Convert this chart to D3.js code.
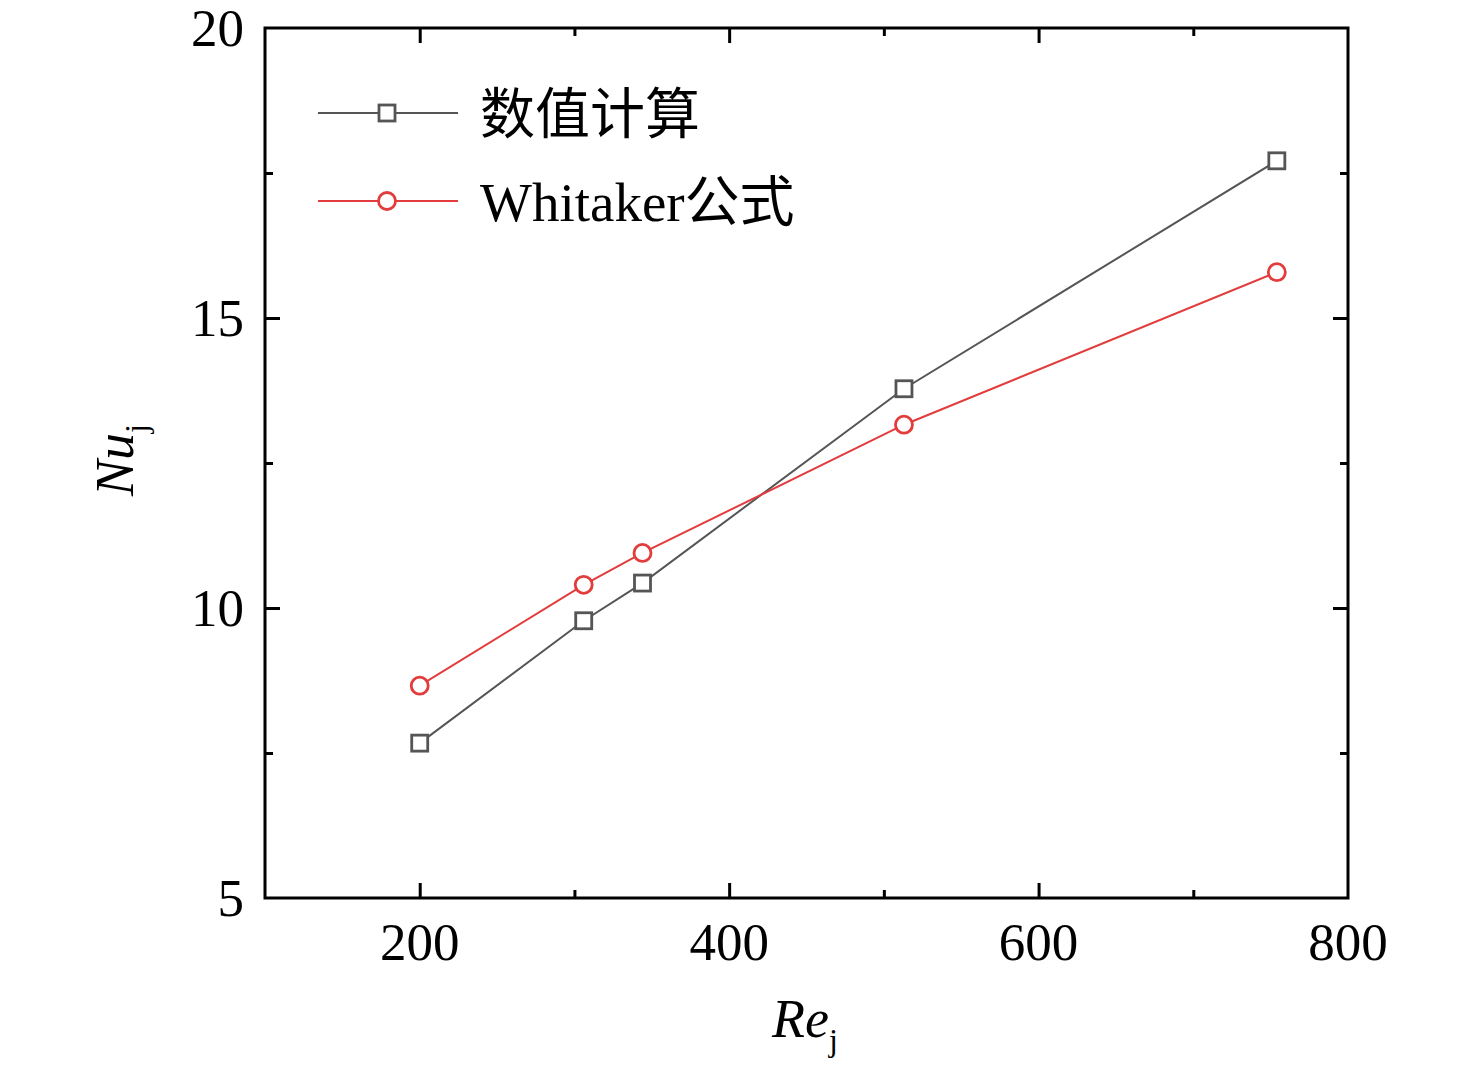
<!DOCTYPE html>
<html><head><meta charset="utf-8">
<script src="https://cdn.jsdelivr.net/npm/d3@7"></script>
<style>body{margin:0;background:#fff}</style>
</head><body>
<svg id="c" width="1476" height="1067"></svg>
<script>
const reValues = [200, 306, 344, 513, 754];
const numericNu = [7.67, 9.78, 10.43, 13.78, 17.71];
const whitakerNu = [8.66, 10.40, 10.95, 13.16, 15.79];
const seriesNames = ["数值计算", "Whitaker公式"];
const xTicks = [200, 400, 600, 800];
const xMinor = [300, 500, 700];
const yTicks = [5, 10, 15, 20];
const yMinor = [7.5, 12.5, 17.5];

const svg = d3.select("#c");
const L = 265, R = 1348, T = 28, B = 898;
const x = d3.scaleLinear().domain([100, 800]).range([L, R]);
const y = d3.scaleLinear().domain([5, 20]).range([B, T]);
const serif = "'Liberation Serif','Times New Roman','Noto Sans CJK SC',serif";

const gray = "#555555", red = "#e23c3c";

function axisG(axis, tr) {
  const g = svg.append("g").attr("transform", tr).call(axis);
  g.select(".domain").remove();
  g.selectAll("line").attr("stroke", "#000").attr("stroke-width", 3);
  g.selectAll("text").remove();
  return g;
}
axisG(d3.axisBottom(x).tickValues(xTicks.filter(v=>v<800)).tickSize(-15), `translate(0,${B})`);
axisG(d3.axisBottom(x).tickValues(xMinor).tickSize(-8), `translate(0,${B})`);
axisG(d3.axisTop(x).tickValues(xTicks.filter(v=>v<800)).tickSize(-15), `translate(0,${T})`);
axisG(d3.axisTop(x).tickValues(xMinor).tickSize(-8), `translate(0,${T})`);
axisG(d3.axisLeft(y).tickValues(yTicks.filter(v=>v>5&&v<20)).tickSize(-15), `translate(${L},0)`);
axisG(d3.axisLeft(y).tickValues(yMinor).tickSize(-8), `translate(${L},0)`);
axisG(d3.axisRight(y).tickValues(yTicks.filter(v=>v>5&&v<20)).tickSize(-15), `translate(${R},0)`);
axisG(d3.axisRight(y).tickValues(yMinor).tickSize(-8), `translate(${R},0)`);

svg.append("rect").attr("x", L).attr("y", T).attr("width", R-L).attr("height", B-T)
  .attr("fill", "none").attr("stroke", "#000").attr("stroke-width", 3);

svg.append("g").selectAll("text").data(xTicks).join("text")
  .attr("x", d => x(d)).attr("y", 960).attr("text-anchor", "middle")
  .attr("font-family", serif).attr("font-size", 53).text(d => d);
svg.append("g").selectAll("text").data(yTicks).join("text")
  .attr("x", 244).attr("y", d => y(d) + 18).attr("text-anchor", "end")
  .attr("font-family", serif).attr("font-size", 53).text(d => d);

const xt = svg.append("text").attr("x", 805).attr("y", 1037).attr("text-anchor", "middle")
  .attr("font-family", serif).attr("font-size", 54);
xt.append("tspan").attr("font-style", "italic").text("Re");
xt.append("tspan").attr("font-size", 32).attr("dy", 14).text("j");

const yt = svg.append("text").attr("transform", "translate(133,460) rotate(-90)").attr("text-anchor", "middle")
  .attr("font-family", serif).attr("font-size", 54);
yt.append("tspan").attr("font-style", "italic").text("Nu");
yt.append("tspan").attr("font-size", 32).attr("dy", 14).text("j");

const line = d3.line().x(d => x(d[0])).y(d => y(d[1]));
const numData = reValues.map((r, i) => [r, numericNu[i]]);
const whiData = reValues.map((r, i) => [r, whitakerNu[i]]);
svg.append("path").datum(numData).attr("d", line).attr("fill", "none").attr("stroke", gray).attr("stroke-width", 2);
svg.append("path").datum(whiData).attr("d", line).attr("fill", "none").attr("stroke", red).attr("stroke-width", 2);

const sq = 16;
svg.append("g").selectAll("rect").data(numData).join("rect")
  .attr("x", d => x(d[0]) - sq/2).attr("y", d => y(d[1]) - sq/2)
  .attr("width", sq).attr("height", sq).attr("fill", "#fff").attr("stroke", gray).attr("stroke-width", 2.8);
svg.append("g").selectAll("circle").data(whiData).join("circle")
  .attr("cx", d => x(d[0])).attr("cy", d => y(d[1])).attr("r", 8.5)
  .attr("fill", "#fff").attr("stroke", red).attr("stroke-width", 2.8);

const lg = svg.append("g");
const ly = [113, 201];
[gray, red].forEach((c, i) => {
  lg.append("line").attr("x1", 318).attr("x2", 458).attr("y1", ly[i]).attr("y2", ly[i]).attr("stroke", c).attr("stroke-width", 2);
  if (i === 0) lg.append("rect").attr("x", 387 - sq/2).attr("y", ly[i] - sq/2).attr("width", sq).attr("height", sq)
    .attr("fill", "#fff").attr("stroke", c).attr("stroke-width", 2.8);
  else lg.append("circle").attr("cx", 387).attr("cy", ly[i]).attr("r", 8.5)
    .attr("fill", "#fff").attr("stroke", c).attr("stroke-width", 2.8);
  lg.append("text").attr("x", 480).attr("y", ly[i] + 20).attr("font-family", serif)
    .attr("font-size", 55).text(seriesNames[i]);
});
</script>
</body></html>
